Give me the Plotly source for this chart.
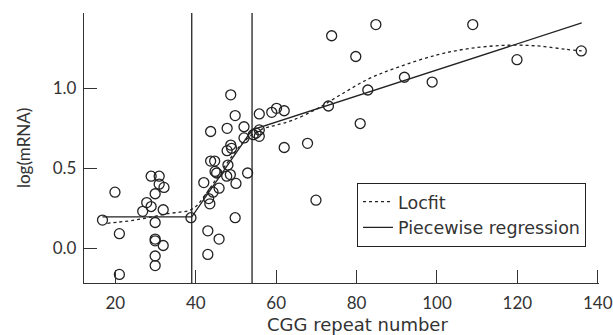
import plotly.graph_objects as go

# Scatter data: CGG repeat number vs log(mRNA)
cgg = [16.8, 19.9, 21.0, 21.0, 26.8, 27.8, 28.9, 28.9, 30.9, 30.9, 32.1, 29.9, 31.9,
       29.9, 29.9, 29.9, 31.9, 29.9, 29.9, 38.8, 43.0, 45.8, 43.0, 49.8, 52.9, 42.0,
       43.7, 44.7, 44.8, 45.2, 44.3, 43.2, 43.5, 45.8, 48.0, 47.7, 48.6, 50.0, 48.7,
       48.9, 47.8, 48.7, 49.8, 43.7, 47.8, 52.0, 52.0, 54.3, 55.0, 55.8, 55.8, 55.8,
       58.9, 60.1, 62.0, 62.0, 67.8, 69.9, 73.0, 73.8, 79.8, 80.9, 82.8, 84.8, 91.9,
       98.8, 108.9, 119.9, 135.9]
log_mrna = [0.175, 0.35, 0.09, -0.165, 0.23, 0.285, 0.26, 0.45, 0.45, 0.40, 0.38, 0.34, 0.24,
            0.16, 0.056, 0.045, 0.016, -0.05, -0.11, 0.19, 0.108, 0.056, -0.04, 0.19, 0.47, 0.41,
            0.545, 0.545, 0.48, 0.47, 0.35, 0.31, 0.277, 0.375, 0.52, 0.45, 0.46, 0.405, 0.645,
            0.625, 0.61, 0.96, 0.83, 0.73, 0.75, 0.76, 0.69, 0.71, 0.72, 0.70, 0.74, 0.84,
            0.85, 0.875, 0.86, 0.63, 0.656, 0.30, 0.89, 1.33, 1.20, 0.78, 0.99, 1.40, 1.07,
            1.04, 1.40, 1.18, 1.235]

# Locfit curve
locfit_x = [18, 21, 24, 27, 30, 33, 36, 38, 40, 42, 45, 48, 51, 54, 57, 60, 64, 70, 76,
            83, 90, 100, 108, 117, 125, 132, 136]
locfit_y = [0.155, 0.163, 0.172, 0.185, 0.2, 0.215, 0.225, 0.232, 0.26, 0.32, 0.43, 0.54,
            0.64, 0.71, 0.75, 0.77, 0.80, 0.87, 0.96, 1.06, 1.13, 1.21, 1.25, 1.27, 1.266,
            1.245, 1.235]

# Piecewise regression
piece_x = [16.8, 39, 54, 136]
piece_y = [0.195, 0.195, 0.74, 1.41]

# Breakpoints
breakpoints = [39, 54]

x_ticks = [20, 40, 60, 80, 100, 120, 140]
y_ticks = [0.0, 0.5, 1.0]
y_ticklabels = ["0.0", "0.5", "1.0"]

TICKFONT = "Lato"
TEXTFONT = "DejaVu Sans"
INK = "#222222"
AX = "#333333"

fig = go.Figure()

fig.add_trace(go.Scatter(
    x=cgg, y=log_mrna, mode="markers", showlegend=False,
    marker=dict(symbol="circle-open", size=10, color=INK, line=dict(width=1.3, color=INK)),
))
fig.add_trace(go.Scatter(
    x=locfit_x, y=locfit_y, mode="lines", name="Locfit", line_shape="spline",
    line=dict(color=INK, width=1.3, dash="dot"),
))
fig.add_trace(go.Scatter(
    x=piece_x, y=piece_y, mode="lines", name="Piecewise regression",
    line=dict(color=INK, width=1.3),
))

for b in breakpoints:
    fig.add_shape(type="line", xref="x", yref="paper", x0=b, x1=b, y0=0, y1=1,
                  line=dict(color=INK, width=1.3))

fig.add_annotation(
    text="log(mRNA)", xref="paper", yref="paper", x=(23 - 84) / 515, y=0.5,
    textangle=-90, showarrow=False, xanchor="center", yanchor="middle",
    font=dict(family=TICKFONT, size=17, color=AX),
)
fig.add_annotation(
    text="CGG repeat number", xref="paper", yref="paper", x=0.5 + (357 - 341.5) / 515,
    y=-(325 - 283.3) / 270.6, showarrow=False, xanchor="center", yanchor="middle",
    font=dict(family=TEXTFONT, size=18, color=AX),
)

fig.update_layout(
    width=613, height=335,
    margin=dict(l=84, r=14, t=13, b=52),
    paper_bgcolor="white", plot_bgcolor="white",
    font=dict(family=TICKFONT, size=17, color=AX),
    legend=dict(
        x=(357 - 84) / 515, y=0.371, xanchor="left", yanchor="top",
        bordercolor=INK, borderwidth=1, bgcolor="white",
        font=dict(family=TEXTFONT, size=17.5, color=AX),
        itemwidth=30, tracegroupgap=0,
    ),
)
fig.update_xaxes(
    range=[12.2, 140.3], tickvals=x_ticks, ticks="inside", ticklen=13,
    tickcolor=AX, tickwidth=1, showline=True, linecolor=AX, linewidth=1.3,
    showgrid=False, zeroline=False, ticklabelstandoff=4, automargin=False,
    tickfont=dict(size=17),
)
fig.update_yaxes(
    range=[-0.219, 1.4725], tickvals=y_ticks, ticktext=y_ticklabels, ticks="inside",
    ticklen=13, tickcolor=AX, tickwidth=1, showline=True, linecolor=AX, linewidth=1.3,
    showgrid=False, zeroline=False, ticklabelstandoff=3, automargin=False,
    tickfont=dict(size=17),
)

fig.write_html("out.html")
